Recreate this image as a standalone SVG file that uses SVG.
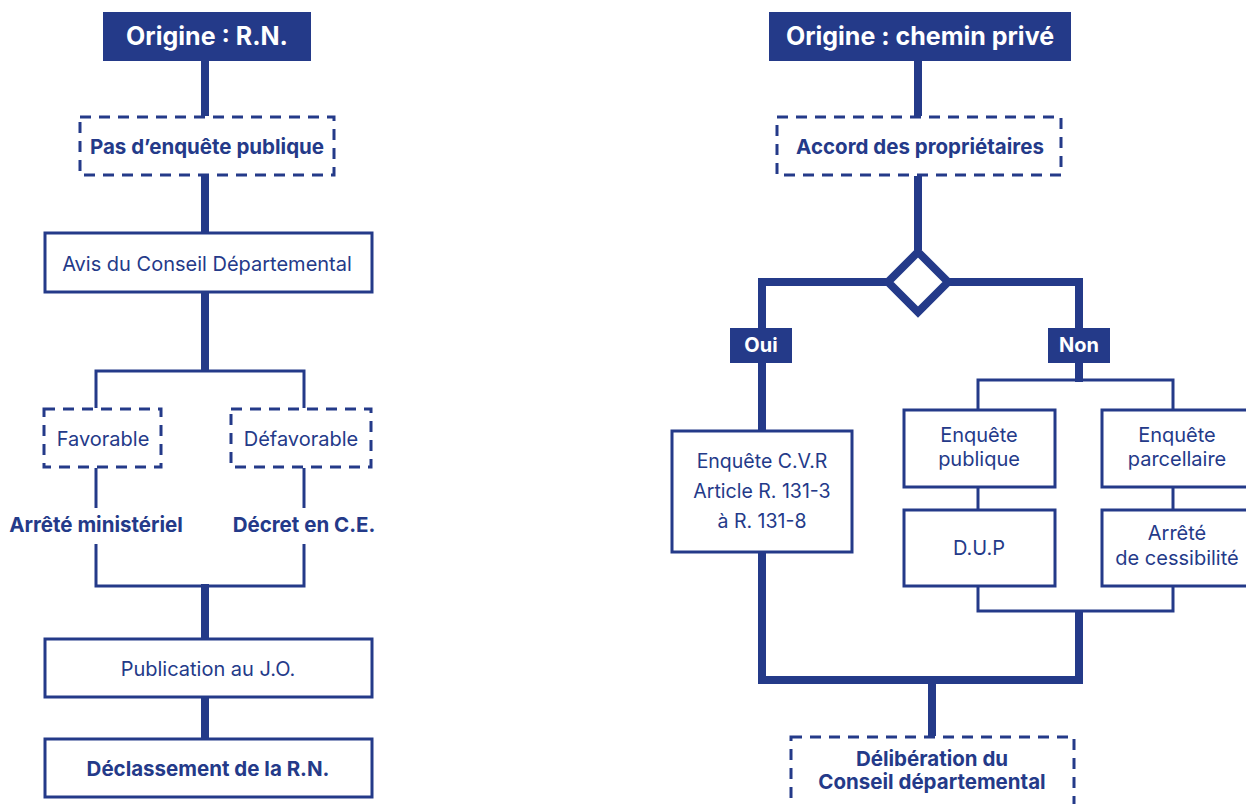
<svg xmlns="http://www.w3.org/2000/svg" width="1246" height="804" viewBox="0 0 1246 804">
  <style>
    .hdr { fill: #243a89; }
    .hdr-t { fill: #ffffff; font-family: Inter, "Liberation Sans", sans-serif; font-weight: 700; font-size: 25px; text-anchor: middle; }
    .tag-t { fill: #ffffff; font-family: Inter, "Liberation Sans", sans-serif; font-weight: 700; font-size: 20px; text-anchor: middle; }
    .box { fill: #ffffff; stroke: #243a89; stroke-width: 3; }
    .dash { fill: #ffffff; stroke: #243a89; stroke-width: 3; stroke-dasharray: 11 8; }
    .t { fill: #243a89; font-family: Inter, "Liberation Sans", sans-serif; font-size: 20px; text-anchor: middle; }
    .b { fill: #243a89; font-family: Inter, "Liberation Sans", sans-serif; font-weight: 700; font-size: 20.5px; text-anchor: middle; }
    .thick { fill: none; stroke: #243a89; stroke-width: 8; }
    .thin { fill: none; stroke: #243a89; stroke-width: 3; }
  </style>

  <!-- connectors -->
  <g id="connectors">
    <!-- left flow -->
    <line class="thick" x1="205" y1="61" x2="205" y2="116"/>
    <line class="thick" x1="205" y1="176" x2="205" y2="232"/>
    <line class="thick" x1="205" y1="293" x2="205" y2="372"/>
    <polyline class="thin" points="96,408 96,371 304,371 304,408"/>
    <line class="thin" x1="96" y1="468" x2="96" y2="508"/>
    <line class="thin" x1="304" y1="468" x2="304" y2="508"/>
    <polyline class="thin" points="96,544 96,586 304,586 304,544"/>
    <line class="thick" x1="205" y1="584" x2="205" y2="638"/>
    <line class="thick" x1="205" y1="698" x2="205" y2="738"/>

    <!-- right flow -->
    <line class="thick" x1="918" y1="61" x2="918" y2="116"/>
    <line class="thick" x1="918" y1="176" x2="918" y2="250"/>
    <polyline class="thick" points="762,430 762,282 888,282"/>
    <polyline class="thick" points="948,282 1079,282 1079,382"/>
    <polyline class="thin" points="978,409 978,380 1173,380 1173,409"/>
    <line class="thin" x1="978" y1="488" x2="978" y2="509"/>
    <line class="thin" x1="1173" y1="488" x2="1173" y2="509"/>
    <polyline class="thin" points="978,587 978,611 1173,611 1173,587"/>
    <polyline class="thick" points="762,553 762,680 1079,680 1079,610"/>
    <line class="thick" x1="932" y1="680" x2="932" y2="736"/>
  </g>

  <!-- left column nodes -->
  <g id="origin-rn">
    <rect class="hdr" x="103" y="12" width="208" height="49"/>
    <text class="hdr-t" x="207" y="45">Origine : R.N.</text>
  </g>
  <g id="no-inquiry">
    <rect class="dash" x="80" y="117" width="254" height="58"/>
    <text class="b" x="207" y="154">Pas d’enquête publique</text>
  </g>
  <g id="council-opinion">
    <rect class="box" x="45" y="233" width="327" height="59"/>
    <text class="t" x="207" y="271">Avis du Conseil Départemental</text>
  </g>
  <g id="favourable">
    <rect class="dash" x="44" y="409" width="117" height="58"/>
    <text class="t" x="103" y="446">Favorable</text>
  </g>
  <g id="unfavourable">
    <rect class="dash" x="231" y="409" width="140" height="58"/>
    <text class="t" x="301" y="446">Défavorable</text>
  </g>
  <g id="ministerial-order">
    <text class="b" x="96" y="532">Arrêté ministériel</text>
  </g>
  <g id="decree">
    <text class="b" x="304" y="532">Décret en C.E.</text>
  </g>
  <g id="publication">
    <rect class="box" x="45" y="639" width="327" height="58"/>
    <text class="t" x="208" y="676">Publication au J.O.</text>
  </g>
  <g id="declassification">
    <rect class="box" x="45" y="739" width="327" height="58"/>
    <text class="b" x="208" y="776">Déclassement de la R.N.</text>
  </g>

  <!-- right column nodes -->
  <g id="origin-private">
    <rect class="hdr" x="769" y="12" width="302" height="49"/>
    <text class="hdr-t" x="920" y="45">Origine : chemin privé</text>
  </g>
  <g id="owners-agreement">
    <rect class="dash" x="777" y="117" width="284" height="58"/>
    <text class="b" x="920" y="154">Accord des propriétaires</text>
  </g>
  <g id="decision">
    <polygon points="918,252 948,282 918,312 888,282" fill="#ffffff" stroke="#243a89" stroke-width="8"/>
  </g>
  <g id="yes">
    <rect class="hdr" x="730" y="328" width="62" height="35"/>
    <text class="tag-t" x="761" y="352">Oui</text>
  </g>
  <g id="no">
    <rect class="hdr" x="1048" y="328" width="62" height="35"/>
    <text class="tag-t" x="1079" y="352">Non</text>
  </g>
  <g id="cvr-inquiry">
    <rect class="box" x="672" y="431" width="180" height="121"/>
    <text class="t" x="762" y="468" style="font-size:19.5px">Enquête C.V.R</text>
    <text class="t" x="762" y="498" style="font-size:19.5px">Article R. 131-3</text>
    <text class="t" x="762" y="528" style="font-size:19.5px">à R. 131-8</text>
  </g>
  <g id="public-inquiry">
    <rect class="box" x="904" y="410" width="151" height="77"/>
    <text class="t" x="979" y="442">Enquête</text>
    <text class="t" x="979" y="466">publique</text>
  </g>
  <g id="parcel-inquiry">
    <rect class="box" x="1102" y="410" width="151" height="77"/>
    <text class="t" x="1177" y="442">Enquête</text>
    <text class="t" x="1177" y="466">parcellaire</text>
  </g>
  <g id="dup">
    <rect class="box" x="904" y="510" width="151" height="76"/>
    <text class="t" x="979" y="555">D.U.P</text>
  </g>
  <g id="transfer-order">
    <rect class="box" x="1102" y="510" width="151" height="76"/>
    <text class="t" x="1177" y="540">Arrêté</text>
    <text class="t" x="1177" y="565">de cessibilité</text>
  </g>
  <g id="council-deliberation">
    <rect class="dash" x="791" y="737" width="283" height="80"/>
    <text class="b" x="932" y="766">Délibération du</text>
    <text class="b" x="932" y="789">Conseil départemental</text>
  </g>
</svg>
